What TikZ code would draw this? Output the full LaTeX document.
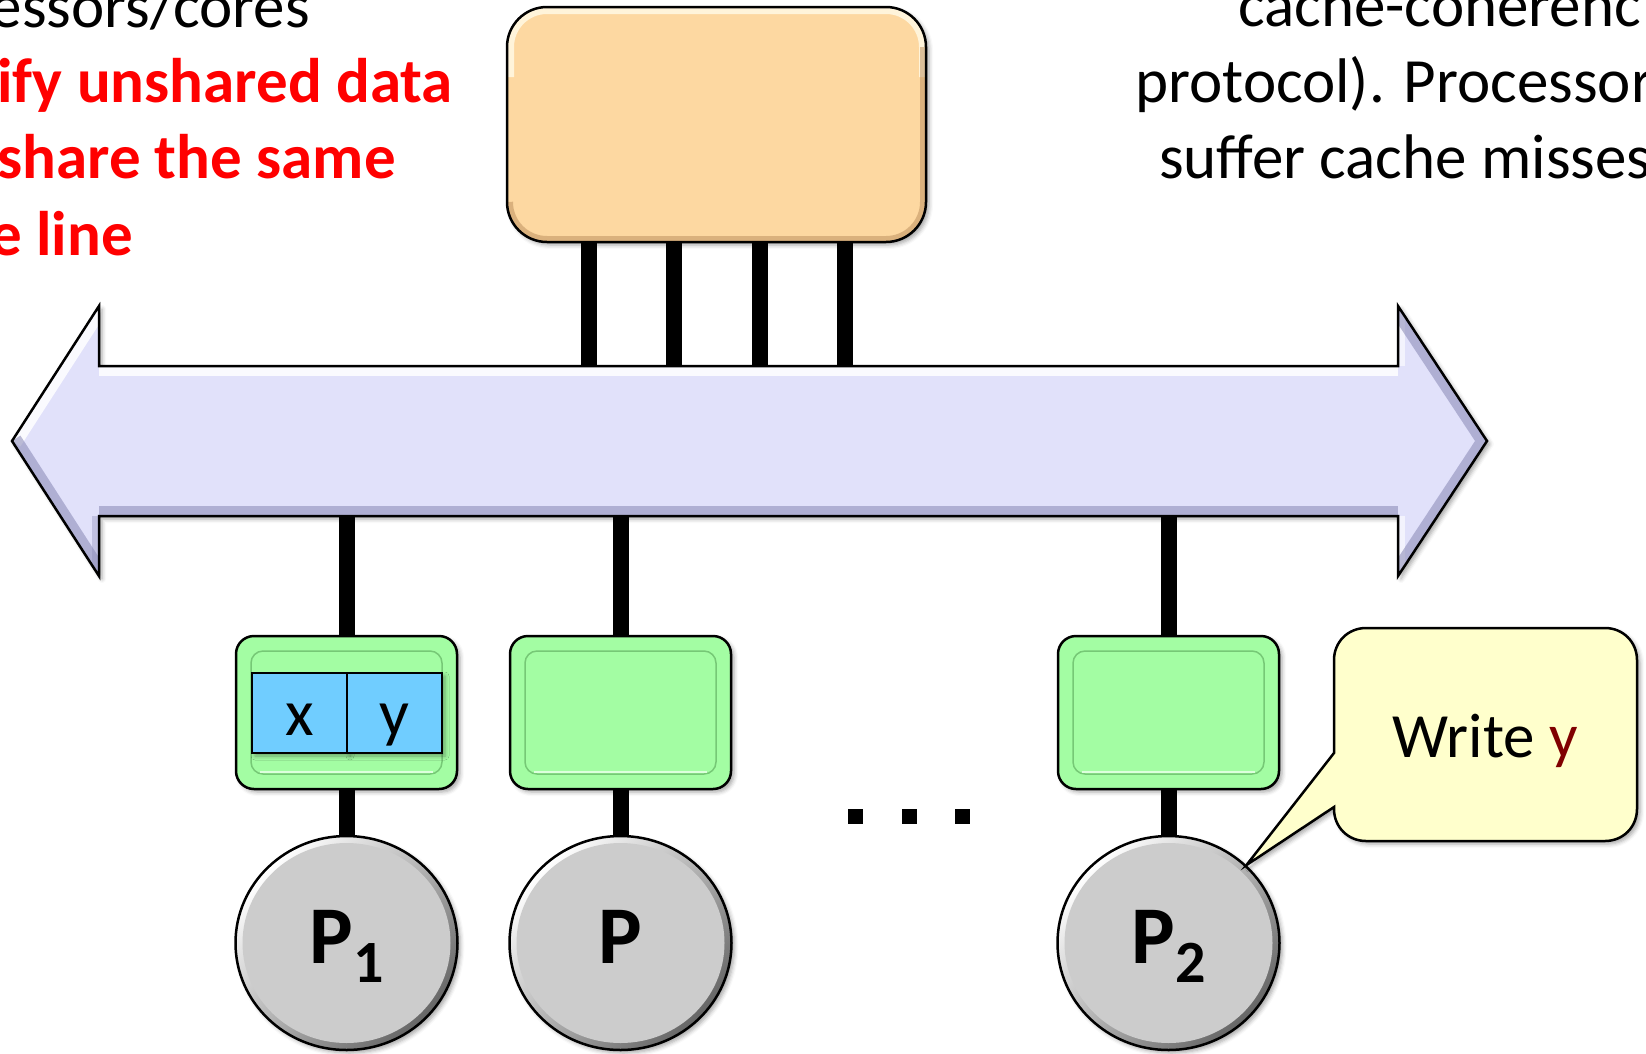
\documentclass[tikz,border=0pt]{standalone}
\usepackage{fontspec}
\setmainfont{Carlito}
\usetikzlibrary{shapes.geometric,shadows.blur,calc}

\definecolor{memfill}{RGB}{253,216,161}
\definecolor{memlight}{RGB}{255,244,218}
\definecolor{memdark}{RGB}{185,140,90}
\definecolor{busfill}{RGB}{225,225,250}
\definecolor{busdark}{RGB}{135,135,180}
\definecolor{cachefill}{RGB}{163,253,163}
\definecolor{cacheedge}{RGB}{118,200,118}
\definecolor{cachelight}{RGB}{220,255,220}
\definecolor{cellfill}{RGB}{112,205,255}
\definecolor{procfill}{RGB}{204,204,204}
\definecolor{notefill}{RGB}{255,255,204}
\definecolor{alertred}{RGB}{255,0,0}
\definecolor{vardark}{RGB}{128,0,0}

\pgfdeclarelayer{back}
\pgfsetlayers{back,main}

\tikzset{
  softshadow/.style={blur shadow={shadow xshift=3pt, shadow yshift=-3pt,
      shadow blur radius=4pt, shadow opacity=35}},
  outline/.style={draw=black, line width=2.5pt},
  wire/.style={draw=black, line width=16pt},
  plaintext/.style={inner sep=0pt, font=\fontsize{63}{76}\selectfont},
  alerttext/.style={inner sep=0pt, text=alertred, font=\bfseries\fontsize{63}{76}\selectfont},
  membox/.style={rectangle, rounded corners=40pt, fill=memfill, outline,
    minimum width=419pt, minimum height=235pt, softshadow,
    path picture={
      \draw[memlight, line width=14pt, rounded corners=40pt]
        ([yshift=-70pt]path picture bounding box.north west)
        -- (path picture bounding box.north west)
        -- (path picture bounding box.north east)
        -- ([yshift=-70pt]path picture bounding box.north east);
      \draw[memdark, line width=12pt, opacity=.5, rounded corners=40pt]
        ([yshift=-40pt]path picture bounding box.north east)
        -- (path picture bounding box.south east)
        -- (path picture bounding box.south west)
        -- ([yshift=40pt]path picture bounding box.south west);
    }},
  cachebox/.style={rectangle, rounded corners=18pt, fill=cachefill, outline,
    minimum width=221pt, minimum height=153pt, softshadow,
    path picture={
      \draw[cacheedge, line width=1.5pt, rounded corners=12pt]
        ([shift={(15pt,15pt)}]path picture bounding box.south west)
        rectangle ([shift={(-15pt,-15pt)}]path picture bounding box.north east);
      \draw[cachelight, line width=2.5pt]
        ([shift={(24pt,17pt)}]path picture bounding box.south west)
        -- ([shift={(-24pt,17pt)}]path picture bounding box.south east);
    }},
  cellbox/.style={rectangle, fill=cellfill, draw=black, line width=2pt,
    minimum width=95pt, minimum height=80pt, inner sep=0pt,
    text height=44pt, text depth=0pt, font=\fontsize{66}{66}\selectfont, softshadow},
  procnode/.style={ellipse, fill=procfill, outline, minimum width=222pt,
    minimum height=214pt, inner sep=0pt, text height=40pt, text depth=0pt,
    font=\bfseries\fontsize{82}{82}\selectfont, softshadow,
    path picture={
      \shade[top color=white, middle color=procfill, bottom color=black!60,
             shading angle=45]
        (path picture bounding box.south west) rectangle (path picture bounding box.north east);
      \fill[procfill] (path picture bounding box.center) ellipse [x radius=104pt, y radius=100pt];
    }},
  busarrow/.style={fill=busfill, outline, softshadow,
    path picture={
      \draw[white, line width=20pt, opacity=.85] (busL) -- (hTL);
      \draw[white, line width=20pt, opacity=.85] (sTL) -- (sTR);
      \draw[white, line width=14pt, opacity=.6] (hTR) -- (sTR);
      \draw[white, line width=14pt, opacity=.6] (sBR) -- (hBR);
      \draw[busdark, line width=20pt, opacity=.55] (sBL) -- (sBR);
      \draw[busdark, line width=20pt, opacity=.55] (hBL) -- (busL);
      \draw[busdark, line width=14pt, opacity=.35] (sBL) -- (hBL);
      \draw[busdark, line width=20pt, opacity=.55] (hTR) -- (busR) -- (hBR);
    }},
  callout/.style={fill=notefill, outline, softshadow},
  dotmark/.style={fill=black},
}

\begin{document}
\begin{tikzpicture}[x=1pt, y=-1pt]
\useasboundingbox (0,0) rectangle (1646,1053);

% surrounding slide text
\node[plaintext, anchor=base east] (lt0) at (310,27) {essors/cores};
\node[alerttext, anchor=base east] (lt1) at (453,102) {ify unshared data};
\node[alerttext, anchor=base east] (lt2) at (396,178) {share the same};
\node[alerttext, anchor=base east] (lt3) at (133,255) {e line};
\node[plaintext, anchor=base west] (rt0) at (1238,26) {cache-coherenc};
\node[plaintext, anchor=base west] (rt1) at (1135,102) {protocol). Processor};
\node[plaintext, anchor=base west] (rt2) at (1159,178) {suffer cache misses};

% main memory
\node[membox] (mem) at (716.5,124.5) {};

% bus outline points
\coordinate (busL) at (12,441);
\coordinate (hTL)  at (99,306);
\coordinate (sTL)  at (99,366);
\coordinate (sTR)  at (1398,366);
\coordinate (hTR)  at (1398,306);
\coordinate (busR) at (1487,441);
\coordinate (hBR)  at (1398,576);
\coordinate (sBR)  at (1398,516);
\coordinate (sBL)  at (99,516);
\coordinate (hBL)  at (99,576);

\path[busarrow] (busL) -- (hTL) -- (sTL) -- (sTR) -- (hTR) -- (busR)
  -- (hBR) -- (sBR) -- (sBL) -- (hBL) -- cycle;

% caches
\node[cachebox] (c1) at (346.5,712.5) {};
\node[cachebox] (c2) at (620.5,712.5) {};
\node[cachebox] (c3) at (1168.5,712.5) {};

% cache line holding x and y
\node[cellbox] (cx) at (299.5,713) {x};
\node[cellbox] (cy) at (394.5,713) {y};

% processors
\node[procnode] (p1) at (346.5,943) {P\raisebox{-19pt}{\fontsize{60}{60}\selectfont 1}};
\node[procnode] (p2) at (620.5,943) {P};
\node[procnode] (p3) at (1168.5,943) {P\raisebox{-19pt}{\fontsize{60}{60}\selectfont 2}};

% ellipsis between processors
\fill[dotmark] (848,809) rectangle (863,824);
\fill[dotmark] (902,809) rectangle (917,824);
\fill[dotmark] (955,809) rectangle (970,824);

% speech bubble from P2
\path[callout] (p3.45) -- (1334,753) -- (1334,660)
  .. controls (1334,642) and (1348,628) .. (1366,628) -- (1605,628)
  .. controls (1623,628) and (1637,642) .. (1637,660) -- (1637,809)
  .. controls (1637,827) and (1623,841) .. (1605,841) -- (1366,841)
  .. controls (1348,841) and (1334,827) .. (1334,809) -- (1334,807) -- cycle;
\node[plaintext, anchor=base] (wr) at (1485,757) {Write \textcolor{vardark}{y}};

% connections
\coordinate (m1) at (589,0);
\coordinate (m2) at (674,0);
\coordinate (m3) at (760,0);
\coordinate (m4) at (845,0);
\begin{pgfonlayer}{back}
  \foreach \m in {m1,m2,m3,m4}
    \draw[wire] (mem.south -| \m) -- (sTL -| \m);
  \foreach \c/\p in {c1/p1,c2/p2,c3/p3} {
    \draw[wire] (\c.north) -- (\c.north |- sBL);
    \draw[wire] (\c.south) -- (\p.north);
  }
\end{pgfonlayer}
\end{tikzpicture}
\end{document}
